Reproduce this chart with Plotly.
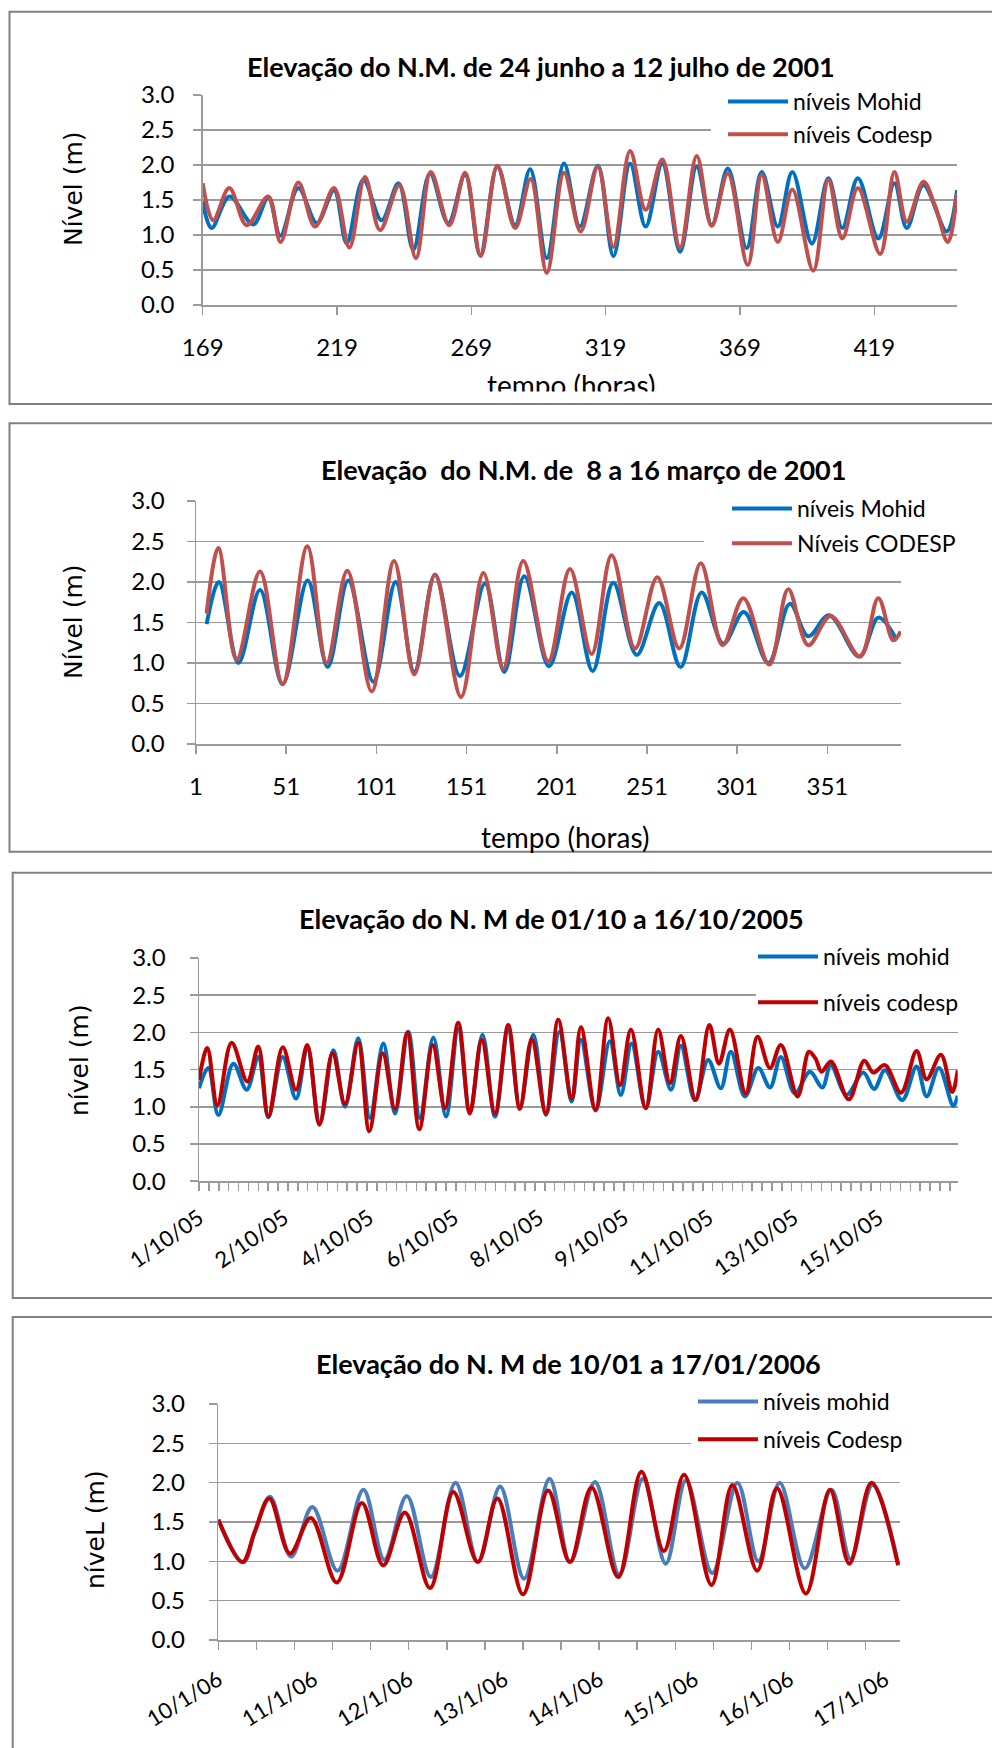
import plotly.graph_objects as go

W, H = 992, 1748
def px(x): return x / W
def py(y): return 1 - y / H

FONT = "Lato, 'Open Sans', sans-serif"
YFONT = "'DejaVu Sans', Verdana, sans-serif"
GRID = "#9A9A9A"

# ---------------- Panel 1: 24 junho a 12 julho de 2001 (hours) ----------------
p1_mohid_h = [169, 172.3, 179, 187.8, 193.4, 197.9, 204.6, 211.5, 217.9, 222.6, 228.8, 235.6,
              241.9, 247.4, 253.6, 260.4, 266.7, 272.3, 278.7, 285.3, 290.9, 297.1, 303.5, 309.4,
              316.1, 321.9, 328.1, 333.9, 340.1, 346.7, 352.9, 358.5, 364.5, 371.5, 377.1, 383.1,
              388.5, 395.8, 401.9, 407.1, 412.9, 420.5, 426.5, 431.1, 437.3, 446.0, 449.8]
p1_mohid_v = [1.48, 1.10, 1.55, 1.15, 1.54, 0.99, 1.67, 1.17, 1.64, 0.88, 1.79, 1.21,
              1.74, 0.79, 1.88, 1.17, 1.86, 0.71, 1.98, 1.14, 1.94, 0.67, 2.02, 1.12,
              1.99, 0.70, 2.02, 1.12, 2.02, 0.76, 1.98, 1.14, 1.95, 0.81, 1.90, 1.12,
              1.90, 0.88, 1.81, 1.10, 1.81, 0.95, 1.74, 1.10, 1.71, 1.05, 1.64]
p1_codesp_h = [169, 172.9, 178.9, 185.4, 193.4, 198.0, 204.6, 210.8, 217.9, 223.6, 229.4, 235.0,
               242.2, 248.4, 253.9, 260.8, 266.7, 272.5, 278.7, 285.3, 291.1, 297.1, 303.5, 309.7,
               316.1, 321.9, 328.1, 333.9, 340.1, 346.7, 352.9, 358.5, 364.5, 371.9, 377.1, 383.1,
               388.5, 396.3, 401.9, 407.1, 412.9, 421.2, 426.5, 431.1, 437.3, 441.5, 446.4, 449.8]
p1_codesp_v = [1.74, 1.21, 1.67, 1.14, 1.55, 0.90, 1.75, 1.12, 1.67, 0.82, 1.83, 1.07,
               1.71, 0.67, 1.90, 1.14, 1.89, 0.70, 1.99, 1.10, 1.80, 0.46, 1.89, 1.05,
               1.98, 0.83, 2.20, 1.36, 2.08, 0.82, 2.13, 1.13, 1.88, 0.57, 1.86, 0.90,
               1.65, 0.49, 1.79, 0.95, 1.67, 0.73, 1.90, 1.19, 1.76, 1.43, 0.90, 1.60]
p1_ticks = [169, 219, 269, 319, 369, 419]

# ---------------- Panel 2: 8 a 16 marco de 2001 (hours) ----------------
p2_mohid_h = [6.9, 13.7, 24.5, 36.5, 49.0, 62.9, 74.0, 85.4, 99.3, 111.7, 122.0, 133.5,
              147.3, 161.2, 171.9, 183.0, 196.7, 209.3, 220.9, 232.3, 245.3, 257.8, 269.6,
              281.3, 293.3, 304.7, 318.3, 330.2, 340.4, 352.0, 368.7, 379.2, 389.0]
p2_mohid_v = [1.48, 2.00, 1.00, 1.90, 0.74, 2.02, 0.95, 2.02, 0.77, 2.00, 0.89, 2.09,
              0.84, 1.98, 0.89, 2.07, 0.96, 1.87, 0.90, 1.99, 1.10, 1.74, 0.95,
              1.87, 1.24, 1.63, 1.00, 1.73, 1.33, 1.59, 1.08, 1.56, 1.30]
p2_codesp_h = [6.9, 13.4, 23.5, 36.5, 49.0, 62.7, 73.4, 84.9, 98.4, 110.8, 122.0, 133.5,
               147.9, 160.3, 171.3, 182.4, 196.3, 208.3, 220.3, 231.4, 244.4, 256.7, 268.9,
               280.8, 292.9, 304.4, 318.8, 329.3, 340.4, 352.8, 369.1, 379.2, 387.5, 391.6]
p2_codesp_v = [1.61, 2.42, 1.04, 2.13, 0.74, 2.44, 1.00, 2.14, 0.65, 2.26, 0.86, 2.09,
               0.58, 2.11, 0.93, 2.26, 1.02, 2.16, 1.11, 2.33, 1.18, 2.06, 1.18,
               2.23, 1.22, 1.80, 0.98, 1.91, 1.22, 1.58, 1.08, 1.80, 1.28, 1.39]
p2_ticks = [1, 51, 101, 151, 201, 251, 301, 351]

# ---------------- Panel 3: 01/10 a 16/10/2005 (hours from 1/10 00h) ----------------
p3_mohid_h = [0, 4.7, 9.8, 17.4, 24.1, 30.0, 35.1, 42.3, 49.1, 54.8, 61.2, 68.0, 73.9, 80.6,
              86.5, 93.3, 99.2, 105.9, 111.8, 118.6, 125.0, 131.2, 137.1, 143.5, 149.8, 156.5,
              162.4, 169.2, 175.6, 182.4, 188.6, 193.3, 200.7, 207.9, 213.5, 218.9, 226.1,
              232.4, 238.9, 243.9, 251.0, 257.7, 264.1, 269.2, 276.3, 283.1, 289.0, 294.5,
              301.6, 309.2, 315.5, 319.8, 327.7, 336.2, 341.7, 347.2, 355.9, 363.2, 368.3,
              374.5, 381.8, 384.0]
p3_mohid_v = [1.25, 1.52, 0.89, 1.58, 1.23, 1.67, 0.86, 1.67, 1.11, 1.80, 0.78, 1.76, 1.00, 1.92,
              0.85, 1.85, 0.91, 2.01, 0.85, 1.93, 0.87, 2.05, 0.93, 1.97, 0.87, 2.03,
              1.00, 1.97, 0.89, 2.01, 1.07, 1.90, 0.95, 1.88, 1.16, 1.85, 0.98,
              1.74, 1.23, 1.82, 1.09, 1.63, 1.25, 1.74, 1.14, 1.52, 1.26, 1.67,
              1.18, 1.47, 1.26, 1.56, 1.16, 1.46, 1.24, 1.49, 1.09, 1.54, 1.14,
              1.52, 1.01, 1.15]
p3_codesp_h = [0, 4.2, 9.3, 16.5, 24.5, 30.0, 35.1, 42.4, 49.1, 54.8, 60.9, 67.6, 73.9, 80.6,
               86.2, 93.0, 99.2, 105.4, 111.5, 118.3, 124.5, 131.2, 137.1, 143.1, 149.8, 156.5,
               162.4, 168.4, 175.6, 181.8, 188.6, 193.3, 200.7, 207.1, 213.1, 218.6, 226.1,
               232.4, 238.4, 243.9, 251.4, 258.3, 263.2, 268.7, 276.7, 282.7, 289.0, 294.5,
               303.0, 308.7, 312.0, 315.1, 319.8, 328.9, 336.7, 341.2, 347.2, 355.3, 363.2,
               368.3, 375.5, 381.2, 384.0]
p3_codesp_v = [1.36, 1.79, 1.02, 1.86, 1.34, 1.81, 0.87, 1.80, 1.23, 1.83, 0.76, 1.72, 1.04, 1.86,
               0.67, 1.72, 0.97, 2.00, 0.70, 1.83, 0.98, 2.13, 0.91, 1.90, 0.91, 2.10,
               0.97, 1.91, 0.91, 2.17, 1.11, 2.07, 0.96, 2.19, 1.29, 2.04, 0.98,
               2.04, 1.32, 1.95, 1.09, 2.10, 1.58, 2.04, 1.18, 1.94, 1.52, 1.83,
               1.14, 1.74, 1.65, 1.47, 1.61, 1.10, 1.62, 1.46, 1.56, 1.19, 1.75,
               1.37, 1.70, 1.20, 1.49]
p3_label_pos = [0, 43, 86, 129, 172, 215, 258, 301, 344]
p3_labels = ["1/10/05", "2/10/05", "4/10/05", "6/10/05", "8/10/05", "9/10/05",
             "11/10/05", "13/10/05", "15/10/05"]

# ---------------- Panel 4: 10/01 a 17/01/2006 (hours from 10/1 00h) ----------------
p4_mohid_h = [0, 6.6, 9.6, 13.6, 19.1, 24.7, 31.3, 38.1, 43.6, 49.5, 55.8, 62.3, 68.2, 74.0,
              80.3, 87.0, 92.4, 98.9, 105.3, 111.5, 117.5, 122.8, 129.7, 136.3, 141.8, 147.4,
              154.0, 161.0, 166.0, 171.8, 178.5]
p4_mohid_v = [1.53, 0.99, 1.38, 1.82, 1.06, 1.69, 0.88, 1.91, 1.02, 1.83, 0.80, 2.00, 0.99, 1.95,
              0.78, 2.05, 0.99, 2.01, 0.83, 2.05, 0.97, 2.03, 0.85, 2.00, 1.00, 2.00,
              0.91, 1.91, 1.03, 1.97, 0.97]
p4_codesp_h = [0, 6.3, 9.6, 13.4, 18.8, 24.3, 31.1, 37.7, 43.3, 49.0, 55.6, 61.7, 68.1, 73.3,
               80.0, 86.6, 92.3, 98.0, 105.0, 111.1, 117.0, 122.3, 129.5, 135.0, 141.5, 146.7,
               154.3, 160.6, 165.7, 171.5, 178.5]
p4_codesp_v = [1.53, 0.99, 1.38, 1.80, 1.10, 1.55, 0.73, 1.74, 0.95, 1.62, 0.66, 1.88, 0.99, 1.80,
               0.58, 1.90, 0.99, 1.94, 0.80, 2.14, 1.13, 2.10, 0.70, 1.97, 0.88, 1.93,
               0.59, 1.91, 0.97, 2.00, 0.95]
p4_label_pos = [0, 25, 50, 75, 100, 125, 150, 175]
p4_labels = ["10/1/06", "11/1/06", "12/1/06", "13/1/06", "14/1/06", "15/1/06", "16/1/06", "17/1/06"]

y_ticks = [0.0, 0.5, 1.0, 1.5, 2.0, 2.5, 3.0]

fig = go.Figure()

def add_series(h, v, name, color, k, grp):
    sfx = "" if k == 1 else str(k)
    fig.add_trace(go.Scatter(
        x=h, y=v, mode="lines", name=name,
        line=dict(color=color, width=4, shape="spline", smoothing=1.0),
        xaxis="x" + sfx, yaxis="y" + sfx, legend="legend" + sfx,
        legendgroup=grp, hoverinfo="skip"))

add_series(p1_mohid_h, p1_mohid_v, "níveis Mohid", "#0070C0", 1, "a1")
add_series(p1_codesp_h, p1_codesp_v, "níveis Codesp", "#C0504D", 1, "b1")
add_series(p2_mohid_h, p2_mohid_v, "níveis Mohid", "#0070C0", 2, "a2")
add_series(p2_codesp_h, p2_codesp_v, "Níveis CODESP", "#C0504D", 2, "b2")
add_series(p3_mohid_h, p3_mohid_v, "níveis mohid", "#0070C0", 3, "a3")
add_series(p3_codesp_h, p3_codesp_v, "níveis codesp", "#C00000", 3, "b3")
add_series(p4_mohid_h, p4_mohid_v, "níveis mohid", "#4A7EBB", 4, "a4")
add_series(p4_codesp_h, p4_codesp_v, "níveis Codesp", "#C00000", 4, "b4")

# panel geometry in pixels: (x_left, x_right, y_top(3.0), y_bottom(0.0), xrange)
geo = {
    1: (202.7, 957.0, 95.0, 305.0, [169, 449.8]),
    2: (196.0, 901.0, 501.0, 744.0, [1, 391.8]),
    3: (199.0, 957.7, 958.0, 1181.2, [0, 384]),
    4: (218.3, 900.0, 1404.0, 1640.0, [0, 179]),
}
ystand = {1: 14, 2: 17, 3: 19, 4: 19}

layout = dict(template="none", width=W, height=H,
              margin=dict(l=0, r=0, t=0, b=0, autoexpand=False),
              paper_bgcolor="white", plot_bgcolor="white", showlegend=True)

for k, (xl, xr, yt, yb, xr_rng) in geo.items():
    sfx = "" if k == 1 else str(k)
    layout["yaxis" + sfx] = dict(
        domain=[py(yb), py(yt)], range=[0, 3], tickvals=y_ticks, tickformat=".1f",
        showgrid=True, gridcolor=GRID, gridwidth=1.5, zeroline=False,
        showline=True, linecolor=GRID, linewidth=1.5,
        ticks="outside", ticklen=8, tickcolor=GRID, tickwidth=1.5,
        tickfont=dict(family=FONT, size=24, color="#000"), automargin=False,
        ticklabelstandoff=ystand[k], anchor="x" + sfx, fixedrange=True)
    xa = dict(domain=[px(xl), px(xr)], range=xr_rng, showgrid=False, zeroline=False,
              showline=True, linecolor=GRID, linewidth=1.5, anchor="y" + sfx,
              tickcolor=GRID, tickwidth=1.5, fixedrange=True, automargin=False,
              tickfont=dict(family=FONT, size=24, color="#000"))
    if k == 1:
        xa.update(tickvals=p1_ticks, ticks="outside", ticklen=8, ticklabelstandoff=13)
    elif k == 2:
        xa.update(tickvals=p2_ticks, ticks="outside", ticklen=8, ticklabelstandoff=13)
    elif k == 3:
        xa.update(tickvals=p3_label_pos, ticktext=p3_labels, ticks="", tickangle=-35,
                  tickfont=dict(family=FONT, size=22, color="#000"), ticklabelstandoff=14,
                  minor=dict(ticks="outside", tick0=0, dtick=5, ticklen=8,
                             tickcolor=GRID, tickwidth=1.5, showgrid=False))
    else:
        xa.update(tickvals=p4_label_pos, ticktext=p4_labels, ticks="", tickangle=-32,
                  tickfont=dict(family=FONT, size=22, color="#000"), ticklabelstandoff=17,
                  minor=dict(ticks="outside", tick0=0, dtick=10, ticklen=8,
                             tickcolor=GRID, tickwidth=1.5, showgrid=False))
    layout["xaxis" + sfx] = xa

# legends (left px, top px, gap)
leg = {1: (723, 80, 0), 2: (727, 487, 2), 3: (753, 935, 13), 4: (693, 1380, 5)}
for k, (lx, ly, gap) in leg.items():
    sfx = "" if k == 1 else str(k)
    layout["legend" + sfx] = dict(
        x=px(lx), y=py(ly), xanchor="left", yanchor="top",
        bgcolor="rgba(0,0,0,0)", borderwidth=0,
        font=dict(family=FONT, size=23, color="#000"),
        traceorder="grouped", tracegroupgap=gap, itemwidth=60)

# frames and white areas behind legends
shapes = []
frames = [(9.5, 11.7, 1000, 404), (9.5, 423.3, 1000, 851.7),
          (12.7, 872.7, 1000, 1298), (12.7, 1317, 1000, 1760)]
for (x0, y0, x1, y1) in frames:
    shapes.append(dict(type="rect", xref="paper", yref="paper", x0=px(x0), x1=px(x1),
                       y0=py(y1), y1=py(y0), line=dict(color="#808080", width=2),
                       fillcolor="rgba(0,0,0,0)", layer="below"))
covers = [(711, 86, 965, 142), (704, 493, 910, 552), (756, 950, 965, 1012), (691, 1396, 910, 1452)]
for (x0, y0, x1, y1) in covers:
    shapes.append(dict(type="rect", xref="paper", yref="paper", x0=px(x0), x1=px(x1),
                       y0=py(y1), y1=py(y0), line=dict(width=0), fillcolor="white", layer="above"))
layout["shapes"] = shapes

ann = []
def text(t, x, y, size, family=FONT, bold=False, angle=0):
    ann.append(dict(text=("<b>%s</b>" % t) if bold else t, x=px(x), y=py(y),
                    xref="paper", yref="paper", xanchor="center", yanchor="middle",
                    showarrow=False, textangle=angle,
                    font=dict(family=family, size=size, color="#000")))

text("Elevação do N.M. de 24 junho a 12 julho de 2001", 541, 67, 27, bold=True)
text("Elevação \u00a0do N.M. de \u00a08 a 16 março de 2001", 583, 470, 27, bold=True)
text("Elevação do N. M de 01/10 a 16/10/2005", 551, 918, 27, bold=True)
text("Elevação do N. M de 10/01 a 17/01/2006", 568, 1363, 27, bold=True)

text("Nível (m)", 73, 189, 25, family=YFONT, angle=-90)
text("Nível (m)", 73, 622, 25, family=YFONT, angle=-90)
text("nível (m)", 79, 1060, 25, family=YFONT, angle=-90)
text("níveL (m)", 95, 1530, 25, family=YFONT, angle=-90)

text("tempo (horas)", 571, 385, 28)
text("tempo (horas)", 565, 837, 28)
# white strip clipping the lower part of the first x-axis title
ann.append(dict(text=" ", x=px(571), y=py(397.5), xref="paper", yref="paper",
                xanchor="center", yanchor="middle", showarrow=False,
                width=260, height=10, bgcolor="white", borderpad=0,
                font=dict(size=2, color="white")))
layout["annotations"] = ann

fig.update_layout(**layout)
fig.write_html("out.html", config={"displayModeBar": False, "staticPlot": True},
               post_script="document.body.style.margin='0';document.body.style.padding='0';")
